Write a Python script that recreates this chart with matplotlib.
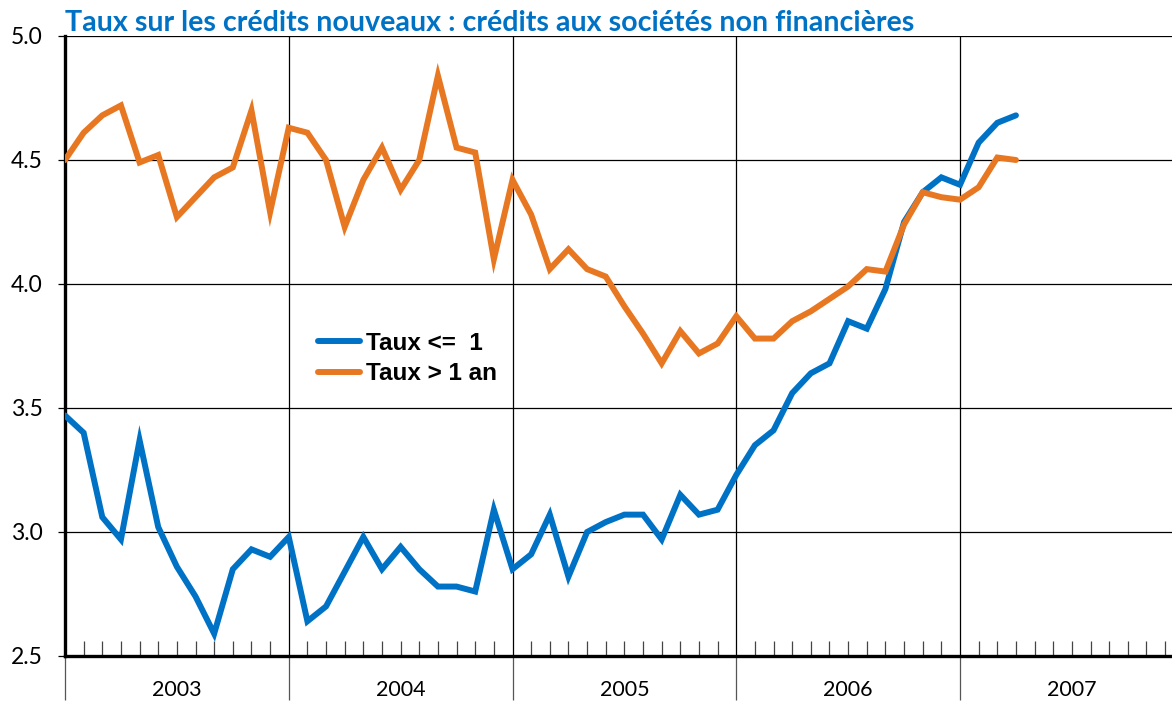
import matplotlib
matplotlib.use('Agg')
import matplotlib.pyplot as plt
import matplotlib.transforms as mtransforms
from matplotlib.ticker import FixedLocator, MultipleLocator

# monthly data, Jan 2003 -> Apr 2007
taux_court = [3.47, 3.40, 3.06, 2.97, 3.37, 3.02, 2.86, 2.74, 2.59, 2.85, 2.93, 2.90,
              2.98, 2.64, 2.70, 2.84, 2.98, 2.85, 2.94, 2.85, 2.78, 2.78, 2.76, 3.09,
              2.85, 2.91, 3.07, 2.82, 3.00, 3.04, 3.07, 3.07, 2.97, 3.15, 3.07, 3.09,
              3.23, 3.35, 3.41, 3.56, 3.64, 3.68, 3.85, 3.82, 3.98, 4.25, 4.37, 4.43,
              4.40, 4.57, 4.65, 4.68]
taux_long = [4.50, 4.61, 4.68, 4.72, 4.49, 4.52, 4.27, 4.35, 4.43, 4.47, 4.70, 4.29,
             4.63, 4.61, 4.50, 4.23, 4.42, 4.55, 4.38, 4.50, 4.84, 4.55, 4.53, 4.10,
             4.42, 4.28, 4.06, 4.14, 4.06, 4.03, 3.91, 3.80, 3.68, 3.81, 3.72, 3.76,
             3.87, 3.78, 3.78, 3.85, 3.89, 3.94, 3.99, 4.06, 4.05, 4.24, 4.37, 4.35,
             4.34, 4.39, 4.51, 4.50]
years = ['2003', '2004', '2005', '2006', '2007']
yticks = [2.5, 3.0, 3.5, 4.0, 4.5, 5.0]

BLUE = '#0072C6'
ORANGE = '#E87722'

fig = plt.figure(figsize=(11.72, 7.01), dpi=100)
ax = fig.add_axes([65 / 1172, 1 - 656 / 701, 1107 / 1172, 620 / 701])

months = list(range(len(taux_court)))
ax.plot(months, taux_court, color=BLUE, lw=4.3, solid_joinstyle='miter',
        solid_capstyle='round', label='Taux <=  1', zorder=3)
ax.plot(months, taux_long, color=ORANGE, lw=4.3, solid_joinstyle='miter',
        solid_capstyle='round', label='Taux > 1 an', zorder=3)

ax.set_xlim(0, 1107 / 18.646)
ax.set_ylim(2.5, 5.0)

# grid
for y in yticks[1:]:
    ax.axhline(y, color='black', lw=0.9, zorder=1)
for i in range(1, len(years)):
    ax.axvline(12 * i, color='black', lw=0.9, zorder=1)

for s in ['top', 'right']:
    ax.spines[s].set_visible(False)
ax.spines['left'].set_linewidth(2.4)
ax.spines['bottom'].set_linewidth(2.4)

ax.set_yticks(yticks)
ax.set_yticklabels([f'{v:.1f}' for v in yticks], fontfamily='Lato')
ax.tick_params(axis='y', direction='out', length=5, width=0.9, pad=11,
               labelsize=16.5)

# x: year separators below the axis, monthly ticks inside
ax.xaxis.set_major_locator(FixedLocator([12 * i for i in range(len(years))]))
ax.xaxis.set_minor_locator(MultipleLocator(1))
ax.tick_params(axis='x', which='major', direction='out', length=32, width=0.9,
               color='#555555', labelbottom=False)
ax.tick_params(axis='x', which='minor', direction='in', length=11, width=0.9,
               color='#444444')

trans = mtransforms.blended_transform_factory(ax.transData, ax.transAxes)
for i, yr in enumerate(years):
    ax.text(12 * i + 6, -0.055, yr, transform=trans, ha='center', va='center',
            fontsize=15.5, fontfamily='Lato', clip_on=False)

fig.text(65 / 1172, 1 - 31 / 701,
         'Taux sur les crédits nouveaux : crédits aux sociétés non financières',
         color=BLUE, fontsize=20.6, fontfamily='Lato', fontweight='bold',
         ha='left', va='baseline')

leg = ax.legend(loc='upper left', bbox_to_anchor=(243 / 1107, 1 - 286 / 620),
                frameon=False, handlelength=1.75, handletextpad=0.25,
                labelspacing=0.3, borderaxespad=0,
                prop={'family': 'Liberation Sans', 'weight': 'bold', 'size': 17.5})

fig.savefig('out.png', dpi=100)
